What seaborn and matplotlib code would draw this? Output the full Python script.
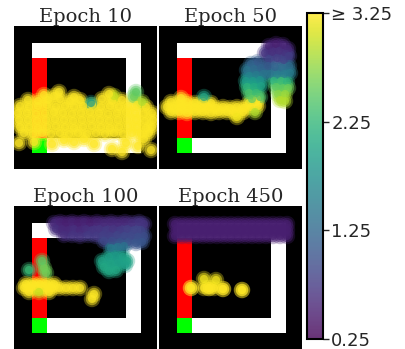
import matplotlib
matplotlib.use("Agg")
import matplotlib.pyplot as plt
import matplotlib.patches as mpatches
import pandas as pd
import seaborn as sns

# Maze layout (arena units, y grows downwards)
arena_size = 143
walls = [
    # x, y, width, height, colour
    (18, 17, 109, 15, "white"),
    (112, 17, 15, 110, "white"),
    (33, 112, 94, 15, "white"),
    (18, 32, 15, 80, "red"),
    (18, 112, 15, 15, "lime"),
]

titles = ["Epoch 10", "Epoch 50", "Epoch 100", "Epoch 450"]

# Epoch 10: visited states (x, y, value)
ep10_x = [14, 24, 34, 46, 56, 66, 88, 98, 108,
          6, 15, 24, 33, 42, 51, 60, 69, 78, 87, 96, 105, 114, 123, 132,
          4, 13, 22, 31, 40, 49, 58, 67, 76, 85, 94, 103, 112, 121, 130, 138,
          5, 14, 23, 32, 41, 50, 59, 68, 77, 86, 95, 104, 113, 122, 131, 139,
          6, 15, 24, 33, 42, 51, 60, 69, 78, 87, 96, 105, 114, 123, 132, 138,
          10, 19, 28, 37, 46, 55, 64, 73, 82, 91, 100, 109, 118, 127, 135,
          20, 38, 60, 80, 98, 112, 124, 137, 5, 108, 70, 50, 130,
          120, 122, 77, 100, 30, 40, 60, 95, 128, 45]
ep10_y = [74, 75, 74, 73, 75, 74, 73, 75, 74,
          80, 81, 80, 79, 81, 80, 81, 80, 79, 81, 80, 81, 80, 79, 81,
          87, 87, 88, 87, 86, 87, 88, 87, 86, 87, 88, 87, 86, 87, 88, 87,
          94, 94, 95, 94, 93, 94, 95, 94, 93, 94, 95, 94, 93, 94, 95, 94,
          101, 101, 102, 101, 100, 101, 102, 101, 100, 101, 102, 101, 100, 101, 102, 101,
          107, 108, 107, 108, 107, 108, 107, 108, 107, 108, 107, 108, 107, 108, 107,
          116, 118, 116, 118, 123, 117, 120, 124, 117, 126, 113, 114, 113,
          71, 66, 77, 70, 69, 70, 71, 68, 76, 66]
ep10_v = [3.4] * 9 + [3.4] * 15 + [3.4] * 16 + [3.4] * 16 + [3.4] * 16 + [3.4] * 15 + \
         [3.4, 3.4, 3.4, 3.4, 3.3, 3.4, 3.4, 3.3, 3.3, 3.4, 3.4, 3.4, 3.4] + \
         [2.6, 2.5, 1.9, 3.0, 3.3, 3.4, 3.4, 3.4, 2.9, 3.4]

# Epoch 50
ep50_x = [12, 20, 28, 36, 44, 52, 90, 97,
          8, 15, 22, 29, 36, 43, 50, 57, 64, 71, 78, 85, 92, 99,
          12, 20, 28, 36, 44, 52, 60, 68, 76, 84,
          98, 78, 96, 45, 22,
          110, 117, 124, 129, 106, 113, 120, 127, 110, 118, 125, 130,
          92, 99, 88, 95, 102, 109, 116, 123, 130, 90, 97, 104, 111, 118, 125, 131,
          87, 94, 101, 88, 95, 102, 90, 97, 93, 101,
          115, 122, 128, 117, 124, 129, 119, 126, 121, 126]
ep50_y = [76, 77, 76, 77, 76, 77, 77, 76,
          81, 82, 81, 82, 81, 82, 81, 82, 81, 82, 81, 82, 81, 80,
          86, 86, 87, 86, 86, 87, 86, 86, 87, 86,
          73, 91, 86, 71, 72,
          20, 18, 19, 23, 27, 26, 25, 28, 33, 32, 34, 30,
          38, 36, 44, 43, 42, 40, 41, 42, 40, 50, 49, 48, 48, 49, 48, 47,
          55, 55, 54, 61, 61, 60, 67, 67, 73, 71,
          55, 55, 56, 61, 62, 62, 68, 68, 74, 75]
ep50_v = [3.4] * 8 + [3.4] * 14 + [3.4] * 10 + [3.3, 3.2, 2.9, 2.0, 3.4] + \
         [0.55, 0.5, 0.55, 0.6, 0.7, 0.65, 0.65, 0.7, 0.85, 0.8, 0.85, 0.8] + \
         [1.2, 1.1, 1.4, 1.3, 1.2, 1.1, 1.2, 1.3, 1.3, 1.6, 1.5, 1.4, 1.4, 1.5, 1.5, 1.5] + \
         [1.9, 1.9, 1.8, 2.2, 2.1, 2.0, 2.4, 2.3, 2.5, 2.4] + \
         [2.2, 2.3, 2.2, 2.5, 2.5, 2.6, 2.7, 2.8, 2.9, 2.9]

# Epoch 100
ep100_x = [40, 46, 52, 58, 64, 70, 76, 83, 90, 97, 104, 111, 118, 125, 130,
           42, 48, 54, 60, 66, 72, 78, 85, 92, 99, 106, 113, 120, 127,
           50, 58, 66, 74, 82, 89, 96, 103, 110, 117, 124, 130,
           90, 98, 106, 114, 122, 128,
           97, 104, 110,
           88, 95, 102, 109, 113, 90, 97, 104, 111, 95, 102,
           15, 30, 32, 28,
           12, 19, 26, 33, 40,
           10, 17, 24, 31, 38, 45, 52, 59, 66,
           15, 25, 35,
           80, 78]
ep100_y = [17, 16, 17, 16, 17, 16, 17, 16, 17, 16, 17, 16, 17, 16, 18,
           23, 23, 24, 23, 24, 23, 24, 23, 24, 23, 24, 23, 24, 24,
           29, 29, 30, 29, 30, 29, 30, 29, 30, 30, 31, 30,
           35, 35, 36, 36, 37, 36,
           42, 41, 40,
           55, 51, 50, 51, 55, 61, 58, 57, 59, 65, 64,
           64, 62, 67, 55,
           78, 78, 78, 78, 78,
           82, 82, 82, 82, 82, 82, 82, 82, 82,
           86, 86, 86,
           88, 93]
ep100_v = [0.6, 0.55, 0.5, 0.55, 0.5, 0.55, 0.5, 0.55, 0.6, 0.6, 0.6, 0.6, 0.65, 0.7, 0.7,
           0.65, 0.6, 0.6, 0.65, 0.6, 0.65, 0.7, 0.7, 0.75, 0.7, 0.75, 0.8, 0.85, 0.85,
           0.65, 0.7, 0.7, 0.75, 0.75, 0.8, 0.8, 0.85, 0.9, 0.9, 0.95, 0.95,
           0.9, 0.95, 1.0, 1.0, 1.05, 1.05,
           1.5, 1.45, 1.4,
           2.0, 1.95, 1.9, 1.95, 2.0, 2.05, 2.0, 1.95, 1.95, 2.05, 2.05,
           2.3, 2.6, 2.6, 2.5,
           3.4, 3.4, 3.4, 3.4, 3.4,
           3.4, 3.4, 3.4, 3.4, 3.4, 3.4, 3.4, 3.4, 3.4,
           3.4, 3.0, 3.4,
           3.3, 3.3]

# Epoch 450
ep450_x = [16, 23, 30, 37, 44, 51, 58, 65, 72, 79, 86, 93, 100, 107, 114, 121, 128,
           18, 25, 32, 39, 46, 53, 60, 67, 74, 81, 88, 95, 102, 109, 116, 123, 128,
           16, 23, 30, 37, 44, 51, 58, 65, 72, 79, 86, 93, 100, 107, 114, 121, 128,
           32, 45, 50, 55, 64, 83, 32, 50, 64, 83,
           45, 57]
ep450_y = [18, 18, 18, 18, 18, 18, 18, 18, 18, 18, 18, 18, 18, 18, 18, 18, 18,
           24, 24, 24, 24, 24, 24, 24, 24, 24, 24, 24, 24, 24, 24, 24, 24, 24,
           30, 30, 30, 30, 30, 30, 30, 30, 30, 30, 30, 30, 30, 30, 30, 30, 30,
           82, 82, 82, 82, 83, 84, 82, 82, 83, 84,
           73, 74]
ep450_v = [0.5] * 51 + [3.4] * 10 + [3.2, 3.2]

epochs = [
    (ep10_x, ep10_y, ep10_v),
    (ep50_x, ep50_y, ep50_v),
    (ep100_x, ep100_y, ep100_v),
    (ep450_x, ep450_y, ep450_v),
]

value_min, value_max = 0.25, 3.25
cbar_ticks = [0.25, 1.25, 2.25, 3.25]
cbar_labels = ["0.25", "1.25", "2.25", "\u2265 3.25"]

sns.set_theme(style="white")
plt.rcParams["font.family"] = ["DejaVu Sans"]

W, H = 406, 349
fig = plt.figure(figsize=(W / 100, H / 100), dpi=100)

# panel boxes in pixels: left, top
boxes = [(14, 26), (159, 26), (14, 206), (159, 206)]
size = 143

# soft markers: several stacked discs, large and faint to small and denser
glow = [(140, 0.3), (80, 0.5), (35, 0.7)]

for (px, py), title, (xs, ys, vs) in zip(boxes, titles, epochs):
    ax = fig.add_axes([px / W, (H - py - size) / H, size / W, size / H])
    ax.set_facecolor("black")
    for x0, y0, w, h, c in walls:
        ax.add_patch(mpatches.Rectangle((x0, y0), w, h, color=c, lw=0, zorder=1))
    df = pd.DataFrame({"x": xs, "y": ys, "value": vs})
    for s, a in glow:
        sns.scatterplot(data=df, x="x", y="y", hue="value", palette="viridis",
                        hue_norm=(value_min, value_max), s=s, alpha=a,
                        linewidth=0, edgecolor="none", legend=False, ax=ax, zorder=2)
    ax.set_xlim(0, arena_size)
    ax.set_ylim(arena_size, 0)
    ax.set_xticks([])
    ax.set_yticks([])
    ax.set_xlabel("")
    ax.set_ylabel("")
    for sp in ax.spines.values():
        sp.set_visible(False)
    ax.set_title(title, family="DejaVu Serif", fontsize=14, pad=2)

# colour bar
cax = fig.add_axes([307 / W, (H - 339) / H, 16 / W, 326 / H])
sm = plt.cm.ScalarMappable(cmap="viridis",
                           norm=plt.Normalize(value_min, value_max))
cbar = fig.colorbar(sm, cax=cax, alpha=0.8)
cbar.set_ticks(cbar_ticks)
cbar.set_ticklabels(cbar_labels)
cbar.ax.tick_params(labelsize=13, length=4, width=1, pad=2)
cbar.outline.set_linewidth(1.5)
cbar.outline.set_edgecolor("black")

fig.savefig("out.png", dpi=100)
